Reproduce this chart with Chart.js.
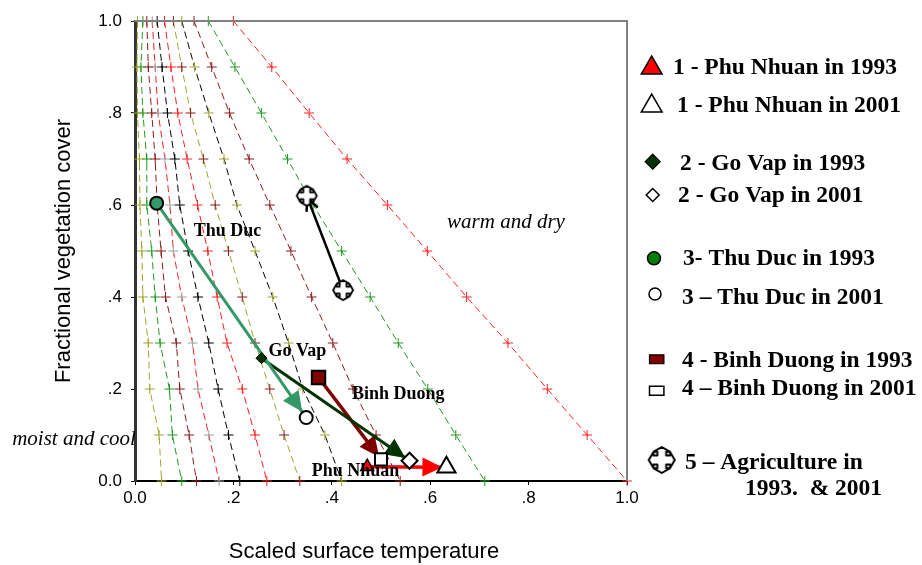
<!DOCTYPE html>
<html>
<head>
<meta charset="utf-8">
<script src="https://cdn.jsdelivr.net/npm/chart.js@4.4.0/dist/chart.umd.min.js"></script>
<style>
  html, body { margin: 0; padding: 0; background: #fff; }
  #wrap { width: 922px; height: 565px; position: relative; }
</style>
</head>
<body>
<div id="wrap"><canvas id="grafico"></canvas></div>
<script>
// Níveis de cobertura vegetal onde ficam as cruzes das isolinhas
const fvcLevels = [1.0, 0.9, 0.8, 0.7, 0.6, 0.5, 0.4, 0.3, 0.2, 0.1, 0.0];

// Temperatura escalada de cada isolinha nesses níveis
const iso1 = [0.005, 0.004, 0.005, 0.009, 0.010, 0.014, 0.016, 0.027, 0.030, 0.049, 0.054];
const iso2 = [0.016, 0.012, 0.016, 0.024, 0.024, 0.034, 0.041, 0.051, 0.070, 0.076, 0.095];
const iso3 = [0.024, 0.027, 0.034, 0.041, 0.045, 0.053, 0.062, 0.084, 0.091, 0.110, 0.125];
const iso4 = [0.035, 0.041, 0.047, 0.061, 0.071, 0.078, 0.095, 0.117, 0.128, 0.150, 0.171];
const iso5 = [0.045, 0.055, 0.066, 0.081, 0.091, 0.108, 0.128, 0.150, 0.169, 0.190, 0.213];
const iso6 = [0.060, 0.073, 0.087, 0.106, 0.127, 0.148, 0.167, 0.187, 0.218, 0.244, 0.268];
const iso7 = [0.078, 0.095, 0.113, 0.139, 0.163, 0.190, 0.218, 0.244, 0.274, 0.303, 0.335];
const iso8 = [0.095, 0.121, 0.150, 0.181, 0.207, 0.244, 0.280, 0.312, 0.341, 0.386, 0.420];
const iso9 = [0.120, 0.156, 0.192, 0.232, 0.274, 0.317, 0.359, 0.402, 0.443, 0.490, 0.539];
const iso10 = [0.149, 0.203, 0.257, 0.310, 0.362, 0.420, 0.478, 0.535, 0.595, 0.652, 0.711];
const iso11 = [0.200, 0.278, 0.354, 0.431, 0.513, 0.594, 0.674, 0.758, 0.838, 0.919, 1.000];

// Locais: [1993, 2001]
const phuNhuanX = [0.472, 0.633];
const phuNhuanY = [0.031, 0.030];
const goVapX = [0.257, 0.558];
const goVapY = [0.267, 0.044];
const thuDucX = [0.044, 0.348];
const thuDucY = [0.604, 0.138];
const binhDuongX = [0.373, 0.500];
const binhDuongY = [0.225, 0.047];
const agriX = [0.423, 0.349];
const agriY = [0.415, 0.620];

// Rótulos dentro do gráfico
const siteLabels = ["Thu Duc", "Go Vap", "Binh Duong", "Phu Nhuan"];
const siteLabelX = [0.188, 0.330, 0.535, 0.448];
const siteLabelY = [0.543, 0.281, 0.189, 0.022];
const zoneLabels = ["warm and dry", "moist and cool"];
const zoneLabelX = [0.754, -0.124];
const zoneLabelY = [0.563, 0.091];

// Legenda
const legendLabels = [
  "1 - Phu Nhuan in 1993",
  "1 - Phu Nhuan in 2001",
  "2 - Go Vap in 1993",
  "2 - Go Vap in 2001",
  "3- Thu Duc in 1993",
  "3 \u2013 Thu Duc in 2001",
  "4 - Binh Duong in 1993",
  "4 \u2013 Binh Duong in 2001",
  "5 \u2013 Agriculture in",
  "1993.  & 2001",
];

const xTitle = "Scaled surface temperature";
const yTitle = "Fractional vegetation cover";

// Estilos
const corLinha = ["#a3a32c", "#1f9a1f", "#8e1b1b", "#ff2020", "#000000", "#ff2020",
  "#a3a32c", "#000000", "#8e1b1b", "#1f9a1f", "#ff2020"];
const corCruz = ["#a3a32c", "#1f9a1f", "#8e1b1b", "#a0a0a0", "#000000", "#ff2020",
  "#8e1b1b", "#a3a32c", "#8e1b1b", "#1f9a1f", "#ff2020"];

const SERIF = "'Liberation Serif', 'Times New Roman', serif";
const SANS = "'Liberation Sans', Arial, sans-serif";

// Ícone da agricultura (cruz com setas)
function iconeAgricultura(meio, lw) {
  const lado = Math.ceil(meio * 2 + lw * 2 + 2);
  const c = document.createElement("canvas");
  c.width = lado;
  c.height = lado;
  const g = c.getContext("2d");
  const s = meio, a = meio * 0.34, h = meio * 0.62, L = meio * 0.36;
  const pts = [[0, -s], [h, -s + L], [a, -s + L], [a, -a], [s - L, -a], [s - L, -h], [s, 0],
    [s - L, h], [s - L, a], [a, a], [a, s - L], [h, s - L], [0, s], [-h, s - L], [-a, s - L],
    [-a, a], [-s + L, a], [-s + L, h], [-s, 0], [-s + L, -h], [-s + L, -a], [-a, -a],
    [-a, -s + L], [-h, -s + L]];
  g.translate(lado / 2, lado / 2);
  g.beginPath();
  pts.forEach((p, i) => (i ? g.lineTo(p[0], p[1]) : g.moveTo(p[0], p[1])));
  g.closePath();
  g.fillStyle = "#fff";
  g.fill();
  g.lineWidth = lw;
  g.strokeStyle = "#000";
  g.lineJoin = "round";
  g.stroke();
  return c;
}

const agriPonto = iconeAgricultura(10, 1.8);
const agriLegenda = iconeAgricultura(13, 2);

function rotuloTick(v) {
  if (v === 0) return "0.0";
  if (v === 1) return "1.0";
  return "." + Math.round(v * 10);
}

function pares(xs, ys) {
  return xs.map((x, i) => ({ x: x, y: ys[i] }));
}

// Isolinhas tracejadas com cruzes
const isolinhas = [iso1, iso2, iso3, iso4, iso5, iso6, iso7, iso8, iso9, iso10, iso11];
const dsIso = isolinhas.map((xs, i) => ({
  data: xs.map((x, k) => ({ x: x, y: fvcLevels[k] })),
  showLine: true,
  borderColor: corLinha[i],
  borderWidth: 1,
  borderDash: [7, 4],
  pointStyle: "cross",
  pointRadius: 5,
  pointBorderColor: corCruz[i],
  pointBorderWidth: 1,
  order: 3,
  clip: false,
}));

// Hastes das setas (1993 -> 2001)
const hastes = [
  { xs: thuDucX, ys: thuDucY, cor: "#339966", lw: 3, tipo: "cheia", recuo: 7 },
  { xs: goVapX, ys: goVapY, cor: "#003300", lw: 3, tipo: "cheia", recuo: 5 },
  { xs: binhDuongX, ys: binhDuongY, cor: "#800000", lw: 3.5, tipo: "cheia", recuo: 3 },
  { xs: phuNhuanX, ys: phuNhuanY, cor: "#ff0000", lw: 3.5, tipo: "cheia", recuo: 4 },
  { xs: agriX, ys: agriY, cor: "#000000", lw: 2.5, tipo: "aberta", recuo: 2 },
];
const dsHastes = hastes.map((h) => ({
  data: pares(h.xs, h.ys),
  showLine: true,
  borderColor: h.cor,
  borderWidth: h.lw,
  pointRadius: 0,
  order: 2,
  clip: false,
  seta: h,
}));

// Marcadores
function ponto(x, y, estilo, r, fundo, borda, lw) {
  return {
    data: [{ x: x, y: y }],
    showLine: false,
    pointStyle: estilo,
    pointRadius: r,
    pointBackgroundColor: fundo,
    pointBorderColor: borda,
    pointBorderWidth: lw,
    order: 1,
    clip: false,
  };
}
const dsPontos = [
  ponto(phuNhuanX[0], phuNhuanY[0], "triangle", 7.5, "#ff0000", "#000", 1.5),
  ponto(phuNhuanX[1], phuNhuanY[1], "triangle", 10.5, "#ffffff", "#000", 2),
  ponto(goVapX[0], goVapY[0], "rectRot", 5.5, "#003300", "#000", 1),
  ponto(goVapX[1], goVapY[1], "rectRot", 8, "#ffffff", "#000", 2),
  ponto(thuDucX[0], thuDucY[0], "circle", 6.5, "#339966", "#000", 2),
  ponto(thuDucX[1], thuDucY[1], "circle", 6.5, "#ffffff", "#000", 2),
  ponto(binhDuongX[0], binhDuongY[0], "rect", 9.5, "#800000", "#000", 2),
  ponto(binhDuongX[1], binhDuongY[1], "rect", 8.5, "#ffffff", "#000", 2),
  ponto(agriX[0], agriY[0], agriPonto, 10, "#fff", "#000", 0),
  ponto(agriX[1], agriY[1], agriPonto, 10, "#fff", "#000", 0),
];

// Pontas das setas, desenhadas logo depois de cada haste
const pluginSetas = {
  id: "setas",
  afterDatasetDraw(chart, args) {
    const h = chart.data.datasets[args.index].seta;
    if (!h) return;
    const pts = args.meta.data;
    const x0 = pts[0].x, y0 = pts[0].y, x1 = pts[1].x, y1 = pts[1].y;
    const d = Math.hypot(x1 - x0, y1 - y0);
    const ux = (x1 - x0) / d, uy = (y1 - y0) / d;
    const nx = -uy, ny = ux;
    const tx = x1 - ux * h.recuo, ty = y1 - uy * h.recuo;
    const ctx = chart.ctx;
    ctx.save();
    if (h.tipo === "cheia") {
      const len = 20, hw = 9.5;
      const bx = tx - ux * len, by = ty - uy * len;
      ctx.beginPath();
      ctx.moveTo(tx, ty);
      ctx.lineTo(bx + nx * hw, by + ny * hw);
      ctx.lineTo(bx - nx * hw, by - ny * hw);
      ctx.closePath();
      ctx.fillStyle = h.cor;
      ctx.fill();
    } else {
      const len = 13, hw = 6;
      const bx = tx - ux * len, by = ty - uy * len;
      ctx.beginPath();
      ctx.moveTo(bx + nx * hw, by + ny * hw);
      ctx.lineTo(tx, ty);
      ctx.lineTo(bx - nx * hw, by - ny * hw);
      ctx.strokeStyle = h.cor;
      ctx.lineWidth = h.lw;
      ctx.stroke();
    }
    ctx.restore();
  },
};

function marcador(ctx, estilo, x, y, r, fundo, borda, lw) {
  ctx.beginPath();
  if (estilo === "triangle") {
    const s = r * Math.sin(Math.PI / 3);
    ctx.moveTo(x, y - r);
    ctx.lineTo(x + s, y + r / 2);
    ctx.lineTo(x - s, y + r / 2);
    ctx.closePath();
  } else if (estilo === "rectRot") {
    ctx.moveTo(x - r, y);
    ctx.lineTo(x, y - r);
    ctx.lineTo(x + r, y);
    ctx.lineTo(x, y + r);
    ctx.closePath();
  } else if (estilo === "circle") {
    ctx.arc(x, y, r, 0, Math.PI * 2);
  } else if (estilo === "rect") {
    ctx.rect(x - r, y - r * 0.62, r * 2, r * 1.24);
  }
  ctx.fillStyle = fundo;
  ctx.fill();
  ctx.lineWidth = lw;
  ctx.strokeStyle = borda;
  ctx.stroke();
}

// Moldura, rótulos, títulos dos eixos e legenda
const pluginTextos = {
  id: "textos",
  afterDraw(chart) {
    const ctx = chart.ctx;
    const a = chart.chartArea;
    const sx = chart.scales.x, sy = chart.scales.y;
    ctx.save();

    // moldura superior e direita
    ctx.strokeStyle = "#808080";
    ctx.lineWidth = 2;
    ctx.beginPath();
    ctx.moveTo(a.left, a.top);
    ctx.lineTo(a.right, a.top);
    ctx.lineTo(a.right, a.bottom);
    ctx.stroke();

    ctx.fillStyle = "#000";
    ctx.textAlign = "center";
    ctx.textBaseline = "middle";
    ctx.font = "bold 18px " + SERIF;
    siteLabels.forEach((t, i) => {
      ctx.fillText(t, sx.getPixelForValue(siteLabelX[i]), sy.getPixelForValue(siteLabelY[i]));
    });
    ctx.font = "italic 21px " + SERIF;
    zoneLabels.forEach((t, i) => {
      ctx.fillText(t, sx.getPixelForValue(zoneLabelX[i]), sy.getPixelForValue(zoneLabelY[i]));
    });

    // títulos dos eixos
    ctx.font = "22px " + SANS;
    ctx.fillText(xTitle, 364, 552);
    ctx.save();
    ctx.translate(64, 251);
    ctx.rotate(-Math.PI / 2);
    ctx.fillText(yTitle, 0, 0);
    ctx.restore();

    // legenda
    const linhaY = [66.7, 105, 163.3, 195, 258.3, 296.7, 360, 388.3, 461.7, 488.3];
    const textoX = [673, 677, 680, 678, 683, 682, 682, 682, 685, 745];
    ctx.textAlign = "left";
    ctx.font = "bold 23.5px " + SERIF;
    legendLabels.forEach((t, i) => ctx.fillText(t, textoX[i], linhaY[i] + 1));

    marcador(ctx, "triangle", 651.7, 68, 12, "#ff0000", "#000", 1.5);
    marcador(ctx, "triangle", 651.7, 106, 12, "#ffffff", "#000", 1.5);
    marcador(ctx, "rectRot", 652.7, 161.7, 7.5, "#003300", "#000", 1.2);
    marcador(ctx, "rectRot", 652.7, 195, 6.5, "#ffffff", "#000", 1.5);
    marcador(ctx, "circle", 654, 258.3, 6.5, "#008000", "#000", 1.5);
    marcador(ctx, "circle", 655, 294, 6, "#ffffff", "#000", 1.5);
    marcador(ctx, "rect", 656.7, 359.3, 7.2, "#800000", "#000", 1.2);
    marcador(ctx, "rect", 656.7, 390.7, 7.2, "#ffffff", "#000", 1.5);
    ctx.drawImage(agriLegenda, 661.7 - agriLegenda.width / 2, 460 - agriLegenda.height / 2);

    ctx.restore();
  },
};

Chart.defaults.font.family = SANS;
Chart.defaults.color = "#000";

const grafico = new Chart(document.getElementById("grafico"), {
  type: "scatter",
  data: { datasets: [...dsIso, ...dsHastes, ...dsPontos] },
  options: {
    responsive: true,
    maintainAspectRatio: false,
    animation: false,
    events: [],
    layout: { padding: { left: 0, right: 295, top: 21, bottom: 0 } },
    plugins: { legend: { display: false }, tooltip: { enabled: false } },
    scales: {
      x: {
        type: "linear",
        min: 0,
        max: 1,
        ticks: { stepSize: 0.2, callback: rotuloTick, color: "#000", font: { size: 17 }, padding: 3, maxRotation: 0 },
        grid: { drawOnChartArea: false, tickLength: 4, color: "#000" },
        border: { color: "#000", width: 2 },
        afterFit(s) { s.height = 84; },
      },
      y: {
        type: "linear",
        min: 0,
        max: 1,
        ticks: { stepSize: 0.2, callback: rotuloTick, color: "#000", font: { size: 17 }, padding: 9 },
        grid: { drawOnChartArea: false, tickLength: 4, color: "#000" },
        border: { color: "#333", width: 3 },
        afterFit(s) { s.width = 135; },
      },
    },
  },
  plugins: [pluginSetas, pluginTextos],
});
</script>
</body>
</html>
